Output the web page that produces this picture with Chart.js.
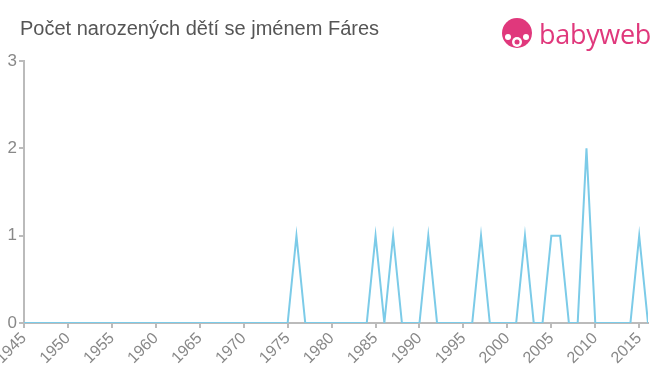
<!DOCTYPE html>
<html>
<head>
<meta charset="utf-8">
<script src="https://cdn.jsdelivr.net/npm/chart.js@4"></script>
<style>
  html, body { margin: 0; padding: 0; background: #fff; }
  #wrap { position: relative; width: 660px; height: 375px; }
  #graf { position: absolute; left: 0; top: 0; }
  #titulek { position: absolute; left: 20px; top: 17px; font: 20px "Liberation Sans", Arial, sans-serif; color: #555; }
  #logo { position: absolute; left: 501px; top: 15px; display: flex; align-items: center; }
  #logo span { font: 27px "Open Sans", sans-serif; color: #e0387c; margin-left: 6px; letter-spacing: -0.3px; }
</style>
</head>
<body>
<div id="wrap">
  <canvas id="graf" width="660" height="375"></canvas>
  <div id="titulek">Počet narozených dětí se jménem Fáres</div>
  <div id="logo">
    <svg width="32" height="32" viewBox="0 0 32 32">
      <circle cx="16" cy="15" r="15" fill="#e0387c"/>
      <circle cx="16" cy="24" r="5" fill="#fff"/>
      <circle cx="16" cy="24" r="2.5" fill="#e0387c"/>
      <circle cx="7" cy="19" r="3" fill="#fff"/>
      <circle cx="25" cy="19" r="3" fill="#fff"/>
    </svg>
    <span>babyweb</span>
  </div>
</div>
<script>
const roky = [1945, 1946, 1947, 1948, 1949, 1950, 1951, 1952, 1953, 1954,
    1955, 1956, 1957, 1958, 1959, 1960, 1961, 1962, 1963, 1964,
    1965, 1966, 1967, 1968, 1969, 1970, 1971, 1972, 1973, 1974,
    1975, 1976, 1977, 1978, 1979, 1980, 1981, 1982, 1983, 1984,
    1985, 1986, 1987, 1988, 1989, 1990, 1991, 1992, 1993, 1994,
    1995, 1996, 1997, 1998, 1999, 2000, 2001, 2002, 2003, 2004,
    2005, 2006, 2007, 2008, 2009, 2010, 2011, 2012, 2013, 2014,
    2015, 2016];
const pocty = [0, 0, 0, 0, 0, 0, 0, 0, 0, 0,
    0, 0, 0, 0, 0, 0, 0, 0, 0, 0,
    0, 0, 0, 0, 0, 0, 0, 0, 0, 0,
    0, 1, 0, 0, 0, 0, 0, 0, 0, 0,
    1, 0, 1, 0, 0, 0, 1, 0, 0, 0,
    0, 0, 1, 0, 0, 0, 0, 1, 0, 0,
    1, 1, 0, 0, 2, 0, 0, 0, 0, 0,
    1, 0];
const yTicks = [0, 1, 2, 3];

const seda = '#bbbbbb';
const popisky = '#888888';

const body = roky.map((r, i) => ({ x: r, y: pocty[i] }));

new Chart(document.getElementById('graf'), {
    type: 'line',
    data: {
        datasets: [{
            data: body,
            borderColor: '#7ccbe8',
            borderWidth: 2,
            pointRadius: 0,
            tension: 0,
            fill: false
        }]
    },
    options: {
        responsive: false,
        animation: false,
        layout: { padding: { top: 61, right: 12, left: 0, bottom: 0 } },
        plugins: { legend: { display: false }, tooltip: { enabled: false } },
        scales: {
            x: {
                type: 'linear',
                min: roky[0],
                max: roky[roky.length - 1],
                afterFit: s => { s.paddingLeft = 0; s.paddingRight = 0; s.height = 52; },
                afterBuildTicks: s => { s.ticks = roky.filter(r => r % 5 === 0).map(v => ({ value: v })); },
                grid: { drawOnChartArea: false, drawTicks: true, tickLength: 5, color: seda, lineWidth: 2 },
                border: { color: seda, width: 2 },
                ticks: {
                    color: popisky,
                    font: { family: 'Liberation Sans', size: 16 },
                    maxRotation: 45, minRotation: 45,
                    padding: 1,
                    callback: v => String(v)
                }
            },
            y: {
                min: 0,
                max: 3,
                afterFit: s => { s.width = 24; s.paddingTop = 0; s.paddingBottom = 0; },
                afterBuildTicks: s => { s.ticks = yTicks.map(v => ({ value: v })); },
                grid: { drawOnChartArea: false, drawTicks: true, tickLength: 5, color: seda, lineWidth: 2 },
                border: { color: seda, width: 2 },
                ticks: {
                    color: popisky,
                    font: { family: 'Liberation Sans', size: 17 },
                    padding: 2
                }
            }
        }
    }
});
</script>
</body>
</html>
